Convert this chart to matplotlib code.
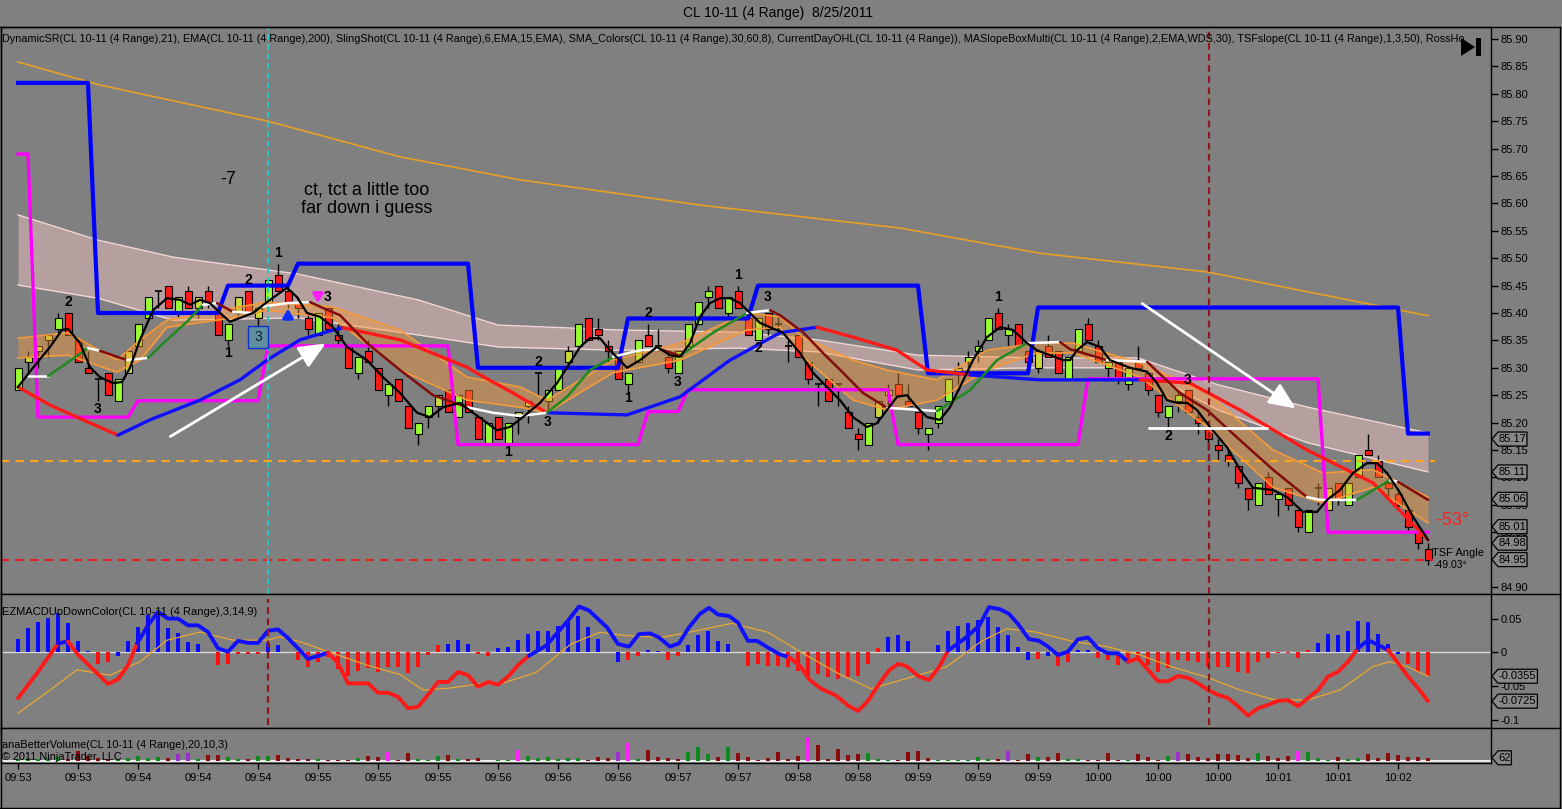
import numpy as np
import matplotlib.pyplot as plt
from matplotlib.lines import Line2D
from matplotlib.patches import Polygon, Rectangle
from matplotlib.ticker import FormatStrFormatter

plt.rcParams['font.family'] = ['Liberation Sans', 'DejaVu Sans']

W, H = 1562, 809
BG = '#808080'

# CL 10-11 (4 Range) 8/25/2011
opens = [85.26, 85.31, 85.33, 85.35, 85.37, 85.40, 85.35, 85.30, 85.28, 85.29,
         85.24, 85.29, 85.34, 85.39, 85.44, 85.45, 85.40, 85.44, 85.41, 85.44,
         85.40, 85.35, 85.40, 85.44, 85.39, 85.42, 85.47, 85.44, 85.42, 85.39,
         85.36, 85.41, 85.36, 85.34, 85.29, 85.33, 85.30, 85.25, 85.28, 85.23,
         85.18, 85.21, 85.23, 85.26, 85.21, 85.26, 85.21, 85.16, 85.21, 85.16,
         85.21, 85.23, 85.29, 85.24, 85.26, 85.31, 85.34, 85.39, 85.37, 85.34,
         85.32, 85.27, 85.31, 85.36, 85.34, 85.32, 85.29, 85.34, 85.38, 85.43,
         85.45, 85.40, 85.44, 85.39, 85.35, 85.40, 85.38, 85.34, 85.36, 85.31,
         85.27, 85.28, 85.27, 85.22, 85.18, 85.16, 85.21, 85.25, 85.27, 85.24,
         85.22, 85.18, 85.20, 85.24, 85.29, 85.31, 85.33, 85.35, 85.40, 85.36,
         85.38, 85.33, 85.30, 85.34, 85.33, 85.28, 85.33, 85.38, 85.34, 85.30,
         85.31, 85.27, 85.31, 85.29, 85.25, 85.21, 85.24, 85.26, 85.21, 85.19,
         85.16, 85.14, 85.12, 85.08, 85.05, 85.10, 85.06, 85.08, 85.04, 85.00,
         85.08, 85.04, 85.09, 85.05, 85.10, 85.15, 85.13, 85.09, 85.07, 85.04,
         85.00, 84.97]
highs = [85.30, 85.33, 85.34, 85.36, 85.40, 85.40, 85.35, 85.33, 85.28, 85.29,
         85.28, 85.33, 85.38, 85.43, 85.44, 85.45, 85.43, 85.45, 85.43, 85.45,
         85.40, 85.38, 85.43, 85.44, 85.41, 85.46, 85.49, 85.45, 85.43, 85.40,
         85.40, 85.41, 85.38, 85.34, 85.32, 85.35, 85.30, 85.27, 85.28, 85.23,
         85.20, 85.23, 85.25, 85.26, 85.25, 85.26, 85.21, 85.20, 85.21, 85.20,
         85.22, 85.24, 85.29, 85.26, 85.30, 85.34, 85.38, 85.39, 85.39, 85.35,
         85.32, 85.29, 85.35, 85.38, 85.37, 85.33, 85.33, 85.38, 85.42, 85.45,
         85.45, 85.43, 85.45, 85.40, 85.39, 85.40, 85.40, 85.35, 85.36, 85.31,
         85.27, 85.28, 85.27, 85.23, 85.19, 85.20, 85.24, 85.27, 85.29, 85.27,
         85.22, 85.19, 85.23, 85.28, 85.31, 85.33, 85.35, 85.39, 85.41, 85.38,
         85.38, 85.33, 85.33, 85.36, 85.33, 85.32, 85.37, 85.39, 85.35, 85.32,
         85.31, 85.30, 85.34, 85.29, 85.25, 85.23, 85.26, 85.26, 85.22, 85.19,
         85.17, 85.16, 85.12, 85.08, 85.09, 85.11, 85.07, 85.08, 85.04, 85.04,
         85.09, 85.08, 85.09, 85.09, 85.14, 85.18, 85.14, 85.10, 85.08, 85.04,
         85.01, 84.98]
lows = [85.26, 85.29, 85.30, 85.32, 85.36, 85.36, 85.31, 85.29, 85.24, 85.25,
        85.24, 85.29, 85.34, 85.39, 85.41, 85.41, 85.39, 85.41, 85.39, 85.41,
        85.36, 85.34, 85.39, 85.40, 85.37, 85.42, 85.44, 85.41, 85.39, 85.36,
        85.36, 85.37, 85.34, 85.30, 85.28, 85.31, 85.26, 85.23, 85.24, 85.19,
        85.16, 85.19, 85.21, 85.22, 85.21, 85.22, 85.17, 85.16, 85.17, 85.16,
        85.18, 85.20, 85.25, 85.22, 85.26, 85.30, 85.34, 85.35, 85.35, 85.31,
        85.28, 85.25, 85.31, 85.34, 85.33, 85.29, 85.29, 85.34, 85.38, 85.41,
        85.41, 85.39, 85.41, 85.36, 85.35, 85.36, 85.36, 85.31, 85.32, 85.27,
        85.23, 85.24, 85.23, 85.19, 85.15, 85.16, 85.20, 85.23, 85.25, 85.23,
        85.18, 85.15, 85.19, 85.24, 85.27, 85.29, 85.31, 85.35, 85.37, 85.34,
        85.34, 85.29, 85.29, 85.32, 85.29, 85.28, 85.33, 85.35, 85.31, 85.28,
        85.27, 85.26, 85.30, 85.25, 85.21, 85.19, 85.22, 85.22, 85.18, 85.15,
        85.13, 85.12, 85.08, 85.04, 85.05, 85.07, 85.03, 85.04, 85.00, 85.00,
        85.05, 85.04, 85.05, 85.05, 85.10, 85.14, 85.10, 85.06, 85.04, 85.00,
        84.97, 84.94]
closes = [85.30, 85.32, 85.34, 85.36, 85.39, 85.36, 85.31, 85.29, 85.28, 85.25,
          85.28, 85.33, 85.38, 85.43, 85.44, 85.41, 85.43, 85.41, 85.43, 85.42,
          85.36, 85.38, 85.43, 85.40, 85.41, 85.46, 85.44, 85.42, 85.41, 85.37,
          85.40, 85.37, 85.35, 85.30, 85.32, 85.31, 85.26, 85.27, 85.24, 85.19,
          85.20, 85.23, 85.25, 85.22, 85.25, 85.22, 85.17, 85.20, 85.17, 85.20,
          85.22, 85.24, 85.29, 85.26, 85.30, 85.33, 85.38, 85.35, 85.36, 85.33,
          85.28, 85.29, 85.35, 85.34, 85.34, 85.30, 85.33, 85.38, 85.42, 85.44,
          85.41, 85.43, 85.41, 85.36, 85.39, 85.37, 85.38, 85.34, 85.32, 85.28,
          85.27, 85.24, 85.27, 85.19, 85.17, 85.20, 85.24, 85.26, 85.25, 85.23,
          85.19, 85.19, 85.23, 85.28, 85.30, 85.32, 85.34, 85.39, 85.37, 85.37,
          85.34, 85.31, 85.33, 85.32, 85.29, 85.32, 85.37, 85.35, 85.31, 85.31,
          85.28, 85.30, 85.30, 85.26, 85.22, 85.23, 85.25, 85.22, 85.20, 85.17,
          85.15, 85.13, 85.09, 85.06, 85.09, 85.07, 85.07, 85.05, 85.01, 85.04,
          85.08, 85.08, 85.06, 85.09, 85.14, 85.14, 85.10, 85.08, 85.05, 85.01,
          84.98, 84.95]
# SMA_Colors paint: g green, y yellow-green, r red, d doji
bar_paint = ("gyyygrrrdr" "gyggdrgryr" "rgyrygrrrr" "grrrgrrgrr" "ggyrgrrgrg"
             "yydggygrrr" "rggrdrgggg" "rgrrgrddrr" "drdrrgyyrr" "rgggygggrg"
             "rryrrggrrg" "rgrrrggrrr" "rrrrgrgrrg" "dyrggrrrrr" "rr")

# EMA(200)
ema200 = [(0, 85.858), (8.2, 85.816), (25, 85.750), (38.2, 85.685), (50.2, 85.643),
          (68.2, 85.597), (88.2, 85.555), (102.2, 85.509), (118.9, 85.475),
          (132.2, 85.427), (141, 85.395)]

# pink envelope (bar, upper, lower)
pink_band = [(0, 85.579, 85.451), (8, 85.533, 85.427), (15.5, 85.502, 85.387),
             (28, 85.471, 85.391), (40, 85.424, 85.360), (48, 85.378, 85.338),
             (60, 85.369, 85.332), (72, 85.365, 85.336), (80, 85.351, 85.329),
             (90, 85.323, 85.296), (102, 85.318, 85.300), (112, 85.318, 85.300),
             (120, 85.269, 85.223), (129, 85.228, 85.163), (141, 85.181, 85.110)]

# SlingShot fill (bar, upper, lower)
sling_band = [(0, 85.354, 85.318), (5, 85.364, 85.323), (9.9, 85.314, 85.292),
              (12.2, 85.351, 85.314), (14.9, 85.387, 85.374), (21.5, 85.409, 85.391),
              (24.9, 85.420, 85.405), (31.5, 85.411, 85.391), (38.2, 85.369, 85.296),
              (44.9, 85.283, 85.241), (50.2, 85.265, 85.228), (52.9, 85.241, 85.218),
              (59.5, 85.314, 85.291), (66.2, 85.345, 85.314), (72.9, 85.400, 85.369),
              (76.2, 85.393, 85.374), (78.5, 85.356, 85.320), (83.5, 85.314, 85.241),
              (86.9, 85.296, 85.223), (91.9, 85.278, 85.241), (96.9, 85.332, 85.296),
              (101.9, 85.345, 85.327), (105.5, 85.345, 85.327), (112.2, 85.309, 85.283),
              (118.9, 85.254, 85.192), (125.5, 85.150, 85.082), (130.5, 85.108, 85.053),
              (135.5, 85.114, 85.082), (141, 85.064, 85.017)]

# DynamicSR steps
resist_steps = [(0, 85.82), (7, 85.82), (8, 85.40), (20, 85.40), (21, 85.45), (27, 85.45),
                (28, 85.49), (45, 85.49), (46, 85.30), (60, 85.30), (61, 85.39), (73, 85.39),
                (74, 85.45), (90, 85.45), (91, 85.29), (101, 85.29), (102, 85.41),
                (138, 85.41), (139, 85.18), (141, 85.18)]
support_steps = [(0, 85.69), (1, 85.69), (2, 85.21), (11, 85.21), (12, 85.24), (24, 85.24),
                 (25, 85.34), (43, 85.34), (44, 85.16), (62, 85.16), (63, 85.22), (66, 85.22),
                 (67, 85.26), (87, 85.26), (88, 85.16), (106, 85.16), (107, 85.28),
                 (130, 85.28), (131, 85.00), (141, 85.00)]

# slow MA, b above / r below
slow_ma = [(0, 85.265, 'r'), (3.2, 85.232, 'r'), (6.5, 85.205, 'r'), (10, 85.177, 'b'),
           (13.2, 85.205, 'b'), (18.2, 85.241, 'b'), (22.2, 85.278, 'b'), (24.9, 85.314, 'b'),
           (28.2, 85.351, 'b'), (31.5, 85.369, 'b'), (32.5, 85.373, 'r'), (38.2, 85.351, 'r'),
           (44.9, 85.301, 'r'), (46.2, 85.287, 'r'), (49.5, 85.254, 'r'), (52.9, 85.218, 'b'),
           (60.9, 85.214, 'b'), (66.2, 85.247, 'b'), (71.2, 85.314, 'b'), (76.2, 85.364, 'b'),
           (79.9, 85.374, 'r'), (83.5, 85.356, 'r'), (87.9, 85.332, 'r'), (90.9, 85.296, 'r'),
           (95.2, 85.287, 'b'), (102.2, 85.278, 'b'), (112.2, 85.278, 'r'), (117.2, 85.272, 'r'),
           (122.2, 85.223, 'r'), (128.9, 85.150, 'r'), (135.5, 85.090, 'r'), (141, 84.986, 'r')]

# medium MA (slope coloured)
mid_ma = [(1, 85.285), (3, 85.285), (4.9, 85.309), (7, 85.336), (8.2, 85.331), (10.9, 85.314),
          (13, 85.318), (14.9, 85.351), (16.9, 85.384), (18.5, 85.415), (19.9, 85.418),
          (21.5, 85.402), (23.5, 85.400), (24.2, 85.411), (26.9, 85.418), (29.2, 85.420),
          (30.5, 85.409), (32.2, 85.396), (34.9, 85.345), (38.2, 85.296), (41.5, 85.250),
          (44.9, 85.228), (47.5, 85.218), (50.2, 85.212), (52.9, 85.218), (54.9, 85.247),
          (57.2, 85.296), (59.5, 85.320), (62.2, 85.332), (64.2, 85.334), (66.2, 85.322),
          (69.5, 85.364), (72.9, 85.400), (75.2, 85.405), (76.2, 85.396), (78.5, 85.365),
          (80.5, 85.327), (82.5, 85.291), (84.5, 85.254), (86.9, 85.227), (91.9, 85.221),
          (95.2, 85.259), (97.9, 85.314), (100.9, 85.345), (104.2, 85.347), (105.2, 85.334),
          (108.9, 85.314), (112.9, 85.311), (116.2, 85.254), (118.9, 85.223), (122.2, 85.168),
          (125.5, 85.114), (128.9, 85.064), (130.2, 85.059), (133.9, 85.059), (137.2, 85.095),
          (138, 85.092), (141, 85.059)]

# fast smoothed price (black)
fast_ma = [(0, 85.265), (1.5, 85.300), (3.2, 85.338), (4.4, 85.369), (5, 85.371), (6.2, 85.345),
           (7.2, 85.301), (8.2, 85.283), (9.5, 85.272), (10.4, 85.274), (11.2, 85.300),
           (12.2, 85.351), (13.5, 85.405), (14.9, 85.427), (16.2, 85.424), (17.2, 85.415),
           (18.2, 85.424), (19.2, 85.418), (20.2, 85.400), (21.2, 85.384), (22.2, 85.391),
           (23.5, 85.400), (24.9, 85.420), (26.9, 85.446), (27.9, 85.429), (28.9, 85.400),
           (30.2, 85.393), (31.5, 85.374), (32.9, 85.338), (34.9, 85.314), (36.5, 85.283),
           (38.2, 85.254), (39.9, 85.218), (41.2, 85.210), (42.5, 85.228), (44.2, 85.236),
           (45.5, 85.218), (47.9, 85.186), (49.2, 85.192), (50.5, 85.210), (52.2, 85.236),
           (53.9, 85.272), (55.2, 85.309), (56.2, 85.338), (57.2, 85.354), (58.2, 85.354),
           (59.2, 85.332), (60.9, 85.300), (62.2, 85.314), (63.9, 85.338), (65.2, 85.323),
           (66.2, 85.320), (67.2, 85.345), (68.2, 85.393), (69.2, 85.418), (70.2, 85.427),
           (71.2, 85.427), (72.2, 85.418), (73.2, 85.400), (74.2, 85.382), (75.2, 85.374),
           (76.5, 85.364), (78.2, 85.327), (79.5, 85.291), (80.9, 85.265), (82.2, 85.241),
           (83.5, 85.210), (84.9, 85.192), (85.9, 85.199), (86.9, 85.223), (87.9, 85.247),
           (88.9, 85.250), (89.9, 85.228), (90.9, 85.210), (92.2, 85.205), (93.2, 85.228),
           (94.2, 85.265), (95.5, 85.314), (96.9, 85.356), (98.2, 85.374), (99.5, 85.369),
           (100.9, 85.345), (101.9, 85.332), (103.2, 85.323), (104.5, 85.314), (105.2, 85.314),
           (105.9, 85.332), (106.9, 85.347), (108.2, 85.338), (109.2, 85.314), (111.2, 85.300),
           (112.9, 85.293), (113.9, 85.272), (114.9, 85.241), (115.9, 85.236), (116.9, 85.236),
           (117.9, 85.223), (119.2, 85.192), (120.9, 85.155), (122.2, 85.114), (123.5, 85.081),
           (125.5, 85.077), (126.9, 85.064), (128.5, 85.037), (129.9, 85.037), (130.9, 85.059),
           (132.2, 85.077), (133.5, 85.108), (134.9, 85.126), (135.9, 85.126), (136.9, 85.108),
           (138.2, 85.072), (139.5, 85.028), (141, 84.986)]

swing_labels = [('2', 5, 85.42), ('3', 8, 85.225), ('1', 21, 85.327), ('2', 23, 85.46),
                ('1', 26, 85.51), ('3', 31, 85.429), ('1', 49, 85.146), ('2', 52, 85.311),
                ('3', 53, 85.201), ('1', 61, 85.245), ('2', 63, 85.40), ('3', 66, 85.274),
                ('1', 72, 85.469), ('3', 75, 85.429), ('2', 74, 85.336), ('1', 98, 85.429),
                ('2', 115, 85.176), ('3', 117, 85.278)]
price_markers = [85.17, 85.11, 85.06, 85.01, 84.98, 84.95]
day_open = 85.13
day_low = 84.95

# EZMACDUpDownColor
macd_hist = [0.0197, 0.0356, 0.0454, 0.0504, 0.0578, 0.043, 0.0168, 0.002, -0.017, -0.014,
             -0.005, 0.0168, 0.038, 0.0553, 0.0553, 0.0365, 0.029, 0.0157, 0.0123, 0.001,
             -0.019, -0.017, -0.003, -0.003, -0.002, 0.0133, 0.011, 0.001, -0.011, -0.022,
             -0.015, -0.0064, -0.025, -0.035, -0.028, -0.024, -0.029, -0.022, -0.022, -0.031,
             -0.022, -0.0045, 0.011, 0.0124, 0.0183, 0.0124, -0.002, -0.006, 0.006, 0.0083,
             0.018, 0.027, 0.031, 0.032, 0.0395, 0.047, 0.054, 0.038, 0.0197, 0.001,
             -0.015, -0.012, -0.005, 0.0035, 0.002, -0.011, -0.005, 0.011, 0.026, 0.031,
             0.017, 0.012, 0.001, -0.0198, -0.017, -0.0198, -0.020, -0.022, -0.028, -0.0346,
             -0.032, -0.037, -0.0396, -0.037, -0.0346, -0.018, 0.006, 0.022, 0.025, 0.017,
             0.001, 0.001, 0.011, 0.031, 0.0395, 0.044, 0.048, 0.052, 0.038, 0.026,
             0.008, -0.011, -0.010, -0.005, -0.021, -0.014, 0.003, 0.003, -0.008, -0.011,
             -0.019, -0.014, -0.011, -0.019, -0.029, -0.024, -0.011, -0.013, -0.015, -0.022,
             -0.022, -0.022, -0.029, -0.031, -0.015, -0.009, -0.001, -0.001, -0.008, 0.003,
             0.0142, 0.0267, 0.026, 0.032, 0.0464, 0.0455, 0.0267, 0.0118, -0.003, -0.017,
             -0.029, -0.035]
hist_paint = ("bbbbbbbbrr" "bbbbbbbbbb" "rrrrrbbbrr" "rrrrrrrrrr" "rrrbbbrrbb"
              "bbbbbbbbbb" "brrbbrrbbb" "bbbrrrrrrr" "rrrrrrrbbb" "brbbbbbbbb"
              "bbrbrrbbrr" "rrrrrrrrrr" "rrrrrrrrrr" "bbbbbbbbbr" "rr")
macd_line = [(0, -0.068, 'r'), (1.9, -0.031, 'r'), (4, 0.0133, 'b'), (5, 0.016, 'r'),
             (6, -0.0035, 'r'), (7.9, -0.031, 'r'), (9, -0.047, 'r'), (10, -0.040, 'r'),
             (11, -0.019, 'r'), (11.9, 0.0133, 'b'), (13, 0.040, 'b'), (14, 0.060, 'b'),
             (15, 0.050, 'b'), (16, 0.050, 'b'), (17, 0.040, 'b'), (18, 0.040, 'b'),
             (19, 0.030, 'b'), (20, 0.0059, 'b'), (21, 0.001, 'b'), (22, 0.017, 'b'),
             (23, 0.014, 'b'), (24, 0.014, 'b'), (25, 0.032, 'b'), (26, 0.034, 'b'),
             (27, 0.021, 'b'), (28, 0.0059, 'b'), (29, -0.0098, 'b'), (30, -0.0054, 'b'),
             (31, -0.0005, 'r'), (32, -0.016, 'r'), (33, -0.046, 'r'), (34, -0.046, 'r'),
             (35, -0.046, 'r'), (36, -0.060, 'r'), (37, -0.060, 'r'), (38, -0.066, 'r'),
             (39, -0.083, 'r'), (40, -0.081, 'r'), (41, -0.063, 'r'), (42, -0.044, 'r'),
             (43, -0.044, 'r'), (44, -0.029, 'r'), (45, -0.034, 'r'), (46, -0.051, 'r'),
             (47, -0.044, 'r'), (48, -0.048, 'r'), (49, -0.036, 'r'), (50, -0.019, 'r'),
             (51.1, -0.005, 'b'), (52.8, 0.0098, 'b'), (55, 0.047, 'b'), (56.1, 0.068, 'b'),
             (57.1, 0.062, 'b'), (58.9, 0.037, 'b'), (60, 0.0123, 'b'), (61.1, 0.0084, 'b'),
             (62.1, 0.027, 'b'), (63.2, 0.028, 'b'), (64.1, 0.022, 'b'), (65.2, 0.0084, 'b'),
             (66.1, 0.0133, 'b'), (67.1, 0.037, 'b'), (68.2, 0.057, 'b'), (69.1, 0.066, 'b'),
             (70, 0.056, 'b'), (71.1, 0.054, 'b'), (72, 0.044, 'b'), (73, 0.017, 'b'),
             (73.9, 0.017, 'b'), (75, 0.007, 'b'), (76.1, -0.0025, 'b'), (77.1, -0.0074, 'r'),
             (78.2, -0.020, 'r'), (79.1, -0.040, 'r'), (80.3, -0.054, 'r'), (81.8, -0.064, 'r'),
             (83, -0.079, 'r'), (84, -0.087, 'r'), (85, -0.072, 'r'), (86.1, -0.047, 'r'),
             (87.1, -0.027, 'r'), (88, -0.017, 'r'), (88.9, -0.021, 'r'), (90, -0.035, 'r'),
             (91.1, -0.041, 'r'), (92.1, -0.022, 'r'), (93, 0.0025, 'b'), (94.6, 0.0197, 'b'),
             (96.1, 0.039, 'b'), (97.1, 0.067, 'b'), (98.2, 0.064, 'b'), (99.1, 0.057, 'b'),
             (100, 0.042, 'b'), (101.1, 0.0197, 'b'), (102.1, 0.017, 'b'), (103, 0.0084, 'b'),
             (104, -0.004, 'b'), (105, 0.001, 'b'), (106, 0.0193, 'b'), (107, 0.022, 'b'),
             (108, 0.0059, 'b'), (109, -0.0015, 'b'), (110, -0.0015, 'b'), (111, -0.014, 'r'),
             (112, -0.009, 'r'), (114, -0.043, 'r'), (115, -0.043, 'r'), (116, -0.035, 'r'),
             (117, -0.038, 'r'), (118, -0.046, 'r'), (119, -0.056, 'r'), (120, -0.063, 'r'),
             (121, -0.068, 'r'), (122, -0.080, 'r'), (123, -0.094, 'r'), (124, -0.083, 'r'),
             (125, -0.078, 'r'), (126, -0.072, 'r'), (127, -0.071, 'r'), (128, -0.080, 'r'),
             (129, -0.068, 'r'), (130, -0.056, 'r'), (131, -0.036, 'r'), (132, -0.029, 'r'),
             (133, -0.014, 'r'), (134, 0.006, 'b'), (135, 0.018, 'b'), (136, 0.011, 'b'),
             (137, 0.0035, 'r'), (138, -0.016, 'r'), (139, -0.036, 'r'), (140, -0.053, 'r'),
             (141, -0.0725, 'r')]
macd_signal = [(0, -0.0905), (3.2, -0.056), (5.9, -0.026), (9.2, -0.034), (12.2, -0.014),
               (14.9, 0.018), (18.2, 0.030), (21.5, 0.018), (24.9, 0.018), (26.2, 0.023),
               (28.2, 0.0157), (31.5, -0.0015), (34.9, -0.019), (38.2, -0.033), (40.5, -0.056),
               (43.2, -0.053), (46.5, -0.046), (48.2, -0.047), (51.8, -0.030), (55.3, 0.0123),
               (58.2, 0.0297), (60.7, 0.025), (64.3, 0.022), (67.1, 0.0297), (71.4, 0.043),
               (75, 0.0297), (78.6, -0.0025), (82.1, -0.032), (85.3, -0.054), (89.3, -0.037),
               (92.8, -0.022), (96.4, 0.017), (98.9, 0.035), (101.8, 0.030), (105.5, 0.016),
               (108.9, 0.0084), (112.2, -0.004), (115.5, -0.022), (118.9, -0.037),
               (122.2, -0.056), (125.5, -0.070), (128.9, -0.071), (132.2, -0.056),
               (135.5, -0.021), (137.2, -0.014), (138.9, -0.021), (141, -0.0355)]

# anaBetterVolume
volume = [46, 69, 46, 69, 92, 46, 230, 115, 69, 46,
          46, 69, 115, 69, 92, 69, 161, 184, 46, 138,
          138, 92, 46, 46, 115, 115, 138, 69, 46, 46,
          46, 23, 23, 23, 69, 115, 92, 207, 23, 184,
          46, 23, 115, 138, 46, 46, 69, 23, 23, 23,
          246, 115, 53, 76, 30, 69, 69, 23, 76, 53,
          191, 414, 39, 246, 76, 53, 39, 191, 322, 145,
          76, 322, 168, 76, 16, 53, 191, 39, 115, 552,
          361, 39, 269, 131, 145, 168, 30, 16, 16, 207,
          223, 69, 16, 16, 16, 16, 76, 30, 30, 230,
          23, 154, 76, 92, 177, 39, 39, 23, 23, 177,
          23, 23, 154, 76, 23, 99, 207, 154, 76, 53,
          154, 154, 138, 53, 177, 115, 53, 99, 230, 207,
          62, 23, 92, 39, 62, 154, 53, 177, 138, 76,
          92, 62]
vol_paint = ("gggggrrrrr" "gggggrppgr" "rggrggrrrr" "grrrgrrmrr" "gggrgrrwgg"
             "mggggggrrr" "pmgrrrrggg" "rgrrrrrrrm" "rrrrrgggrr" "rrggggggrp"
             "rrgrrggrrr" "rgrrrgprrr" "rrrrgrrrmg" "ggrggrrrrr" "rr")

time_ticks = list(range(0, 139, 6))
time_labels = ['09:53', '09:53', '09:54', '09:54', '09:54', '09:55', '09:55', '09:55',
               '09:56', '09:56', '09:56', '09:57', '09:57', '09:58', '09:58', '09:59',
               '09:59', '09:59', '10:00', '10:00', '10:00', '10:01', '10:01', '10:02']

# the visible part of the indicator caption (cut at the price axis in the screenshot)
indicator_text = ("DynamicSR(CL 10-11 (4 Range),21), EMA(CL 10-11 (4 Range),200), "
                  "SlingShot(CL 10-11 (4 Range),6,EMA,15,EMA), SMA_Colors(CL 10-11 (4 Range),30,60,8), "
                  "CurrentDayOHL(CL 10-11 (4 Range)), MASlopeBoxMulti(CL 10-11 (4 Range),2,EMA,WDS,30), "
                  "TSFslope(CL 10-11 (4 Range),1,3,50), RossHo")


def px_box(x0, y0, x1, y1):
    return [x0 / W, 1 - y1 / H, (x1 - x0) / W, (y1 - y0) / H]


def draw_runs(a, pts, colors, lw, z):
    xs = [p[0] for p in pts]
    ys = [p[1] for p in pts]
    cs = [p[2] for p in pts]
    n = len(xs)
    s = 0
    while s < n - 1:
        e = s
        while e < n - 1 and cs[e] == cs[s]:
            e += 1
        a.plot(xs[s:e + 1], ys[s:e + 1], color=colors[cs[s]], lw=lw, zorder=z,
               solid_joinstyle='round', solid_capstyle='round')
        s = e


def flag(a, val, label):
    pos = a.get_position()
    ax_h = pos.height * H
    ax_w = pos.width * W
    y0, y1 = a.get_ylim()
    dy = (y1 - y0) / ax_h * 7
    dx = 1.0 / ax_w
    w = 10 + 5.2 * len(label)
    tr = a.get_yaxis_transform()
    pts = [(1 + 1 * dx, val), (1 + 7 * dx, val + dy), (1 + w * dx, val + dy),
           (1 + w * dx, val - dy), (1 + 7 * dx, val - dy)]
    a.add_patch(Polygon(pts, closed=True, transform=tr, facecolor='#888888',
                        edgecolor='black', lw=0.9, clip_on=False, zorder=20))
    a.text(1 + (6 + w) / 2 * dx, val, label, transform=tr, ha='center', va='center',
           fontsize=8, color='black', clip_on=False, zorder=21)


fig = plt.figure(figsize=(W / 100, H / 100), dpi=100, facecolor=BG)
ax = fig.add_axes(px_box(1, 27, 1491, 594))
axm = fig.add_axes(px_box(1, 594, 1491, 728))
axv = fig.add_axes(px_box(1, 728, 1491, 763))

XL = (-1.7, 147.3)
MAIN_YL = (84.8872, 85.9219)
MACD_YL = (-0.1123, 0.0865)
VOL_YL = (-57.5, 747.5)

for a in (ax, axm, axv):
    a.set_facecolor(BG)
    for sp in a.spines.values():
        sp.set_color('black')
        sp.set_linewidth(1)
    a.set_xlim(*XL)

ax.set_ylim(*MAIN_YL)
axm.set_ylim(*MACD_YL)
axv.set_ylim(*VOL_YL)

# ---------------- main price panel ----------------
pb = np.array(pink_band)
ax.fill_between(pb[:, 0], pb[:, 1], pb[:, 2], color='#f6c6c6', alpha=0.45, lw=0, zorder=2)
ax.plot(pb[:, 0], pb[:, 1], color='#f3d6d6', lw=1, zorder=2.1)
ax.plot(pb[:, 0], pb[:, 2], color='#f3d6d6', lw=1, zorder=2.1)

idx = np.arange(len(closes))
o = np.array(opens)
c = np.array(closes)
hi = np.array(highs)
lo = np.array(lows)
paint = np.array(list(bar_paint))
body_col = {'g': '#99ff33', 'y': '#c9d83c', 'r': '#ff1a1a'}

ax.vlines(idx, lo, hi, color='black', lw=1, zorder=2.5)
solid = paint != 'd'
ax.bar(idx[solid], np.abs(c - o)[solid], 0.7, bottom=np.minimum(o, c)[solid],
       color=[body_col[p] for p in paint[solid]], edgecolor='black', linewidth=0.8, zorder=2.6)
ax.hlines(c[~solid], idx[~solid] - 0.35, idx[~solid] + 0.35, color='black', lw=1.2, zorder=2.6)

sb = np.array(sling_band)
ax.fill_between(sb[:, 0], sb[:, 1], sb[:, 2], color='#fc9834', alpha=0.42, lw=0, zorder=3.1)
ax.plot(sb[:, 0], sb[:, 1], color='#f59a3a', lw=1.2, zorder=3.3)
ax.plot(sb[:, 0], sb[:, 2], color='#f59a3a', lw=1.2, zorder=3.3)

e2 = np.array(ema200)
ax.plot(e2[:, 0], e2[:, 1], color='#e8a024', lw=1.2, zorder=3.5)

ax.hlines(day_open, XL[0], 141.7, colors='#ffa31a', linestyles=(0, (4, 3)), lw=1.5, zorder=3.6)
ax.hlines(day_low, XL[0], 141.5, colors='#e8201c', linestyles=(0, (4, 3)), lw=1.5, zorder=3.6)

rs = np.array(resist_steps)
ax.plot(rs[:, 0], rs[:, 1], color='#0000ff', lw=3.0, zorder=4)
ss = np.array(support_steps)
ax.plot(ss[:, 0], ss[:, 1], color='#ff00ff', lw=2.4, zorder=4)

draw_runs(ax, slow_ma, {'r': '#ff1a1a', 'b': '#1010ff'}, 2.4, 4.2)

mx = [p[0] for p in mid_ma]
my = [p[1] for p in mid_ma]
mid_pts = []
for i in range(len(mx)):
    if i < len(mx) - 1:
        slope = (my[i + 1] - my[i]) / (mx[i + 1] - mx[i])
        k = 'g' if slope > 0.005 else ('m' if slope < -0.005 else 'w')
    else:
        k = 'w'
    mid_pts.append((mx[i], my[i], k))
draw_runs(ax, mid_pts, {'g': '#1f8a1f', 'm': '#800c0c', 'w': '#ffffff'}, 1.8, 4.4)

fm = np.array(fast_ma)
ax.plot(fm[:, 0], fm[:, 1], color='black', lw=1.6, zorder=5)

ax.axvline(25, color='#22c8c8', ls=(0, (3, 2)), lw=1.4, zorder=4.6)
ax.axvline(119.1, color='#901818', ls=(0, (3, 2)), lw=1.6, zorder=4.6)

# MASlopeBox "3" and slope arrows
ax.add_patch(Rectangle((23.0, 85.336), 2.0, 0.040, facecolor='#5e8ea0',
                       edgecolor='#1030d0', lw=1, zorder=5.5))
ax.text(24.0, 85.356, '3', ha='center', va='center', fontsize=10, color='#10202a', zorder=5.6)
ax.annotate('', xy=(27, 85.413), xytext=(27, 85.384), zorder=5.6,
            arrowprops=dict(arrowstyle='-|>,head_length=0.5,head_width=0.3', color='#1030ff',
                            lw=2.5, mutation_scale=10))
ax.annotate('', xy=(30, 85.413), xytext=(30, 85.440), zorder=5.6,
            arrowprops=dict(arrowstyle='-|>,head_length=0.5,head_width=0.3', color='#ff20ff',
                            lw=2.5, mutation_scale=10))

for t, bx, by in swing_labels:
    ax.text(bx, by, t, ha='center', va='center', fontsize=10, fontweight='bold',
            color='black', zorder=6)

# drawn annotations
ax.annotate('', xy=(31, 85.347), xytext=(15, 85.172), zorder=6,
            arrowprops=dict(arrowstyle='-|>,head_length=0.9,head_width=0.4', color='white',
                            lw=2, mutation_scale=18))
ax.annotate('', xy=(128, 85.223), xytext=(112.2, 85.420), zorder=6,
            arrowprops=dict(arrowstyle='-|>,head_length=0.9,head_width=0.4', color='white',
                            lw=2, mutation_scale=18))
ax.hlines(85.190, 113, 125, colors='white', lw=2, zorder=6)
ax.text(21, 85.643, '-7', ha='center', va='center', fontsize=13, color='black', zorder=6)
ax.text(34.9, 85.608, 'ct, tct a little too\nfar down i guess', ha='center', va='center',
        fontsize=13, color='black', linespacing=1.15, zorder=6)
ax.text(141.8, 85.022, '-53°', ha='left', va='center', fontsize=13, color='#ff2020', zorder=6)
ax.text(141.4, 84.962, 'TSF Angle', ha='left', va='center', fontsize=8, color='black', zorder=6)
ax.text(141.6, 84.940, '-49.03°', ha='left', va='center', fontsize=7.5, color='black', zorder=6)

ax.text(0.001, 0.979, indicator_text, transform=ax.transAxes, ha='left', va='center',
        fontsize=7.8, color='black', zorder=7)

# go-to-end button
ax.add_patch(Polygon([(0.9799, 0.9806), (0.9799, 0.9489), (0.9893, 0.9647)], closed=True,
                     transform=ax.transAxes, facecolor='black', edgecolor='none', zorder=8))
ax.add_patch(Rectangle((0.9900, 0.9489), 0.0034, 0.0317, transform=ax.transAxes,
                       facecolor='black', edgecolor='none', zorder=8))

ax.yaxis.tick_right()
ax.set_yticks(np.round(np.arange(84.90, 85.9001, 0.05), 2))
ax.yaxis.set_major_formatter(FormatStrFormatter('%.2f'))
ax.tick_params(axis='y', direction='out', length=5, width=1, labelsize=8, pad=2, colors='black')
ax.tick_params(axis='x', bottom=False, labelbottom=False)
ax.set_xlim(*XL)
ax.set_ylim(*MAIN_YL)
for v in price_markers:
    flag(ax, v, '%.2f' % v)

# ---------------- MACD panel ----------------
hc = {'b': '#0a0aff', 'r': '#ff1010'}
axm.axhline(0, color='#d8d8d8', lw=1, zorder=1)
axm.bar(idx, macd_hist, 0.32, color=[hc[p] for p in hist_paint], zorder=2)
sg = np.array(macd_signal)
axm.plot(sg[:, 0], sg[:, 1], color='#e8a830', lw=0.9, zorder=3)
draw_runs(axm, macd_line, {'r': '#ff1a1a', 'b': '#1010ff'}, 2.8, 4)
axm.axvline(25, color='#901818', ls=(0, (3, 2)), lw=1.6, ymin=0.02, ymax=0.96, zorder=5)
axm.axvline(119.1, color='#901818', ls=(0, (3, 2)), lw=1.6, ymin=0.02, ymax=0.96, zorder=5)
axm.text(0.001, 0.866, 'EZMACDUpDownColor(CL 10-11 (4 Range),3,14,9)', transform=axm.transAxes,
         ha='left', va='center', fontsize=8, color='black', zorder=6)
axm.yaxis.tick_right()
axm.set_yticks([0.05, 0, -0.05, -0.1])
axm.set_yticklabels(['0.05', '0', '-0.05', '-0.1'])
axm.tick_params(axis='y', direction='out', length=5, width=1, labelsize=8, pad=2, colors='black')
axm.tick_params(axis='x', bottom=False, labelbottom=False)
axm.set_xlim(*XL)
axm.set_ylim(*MACD_YL)
flag(axm, macd_signal[-1][1], '-0.0355')
flag(axm, macd_line[-1][1], '-0.0725')

# ---------------- volume panel ----------------
vc = {'g': '#0a8a1a', 'r': '#8b0a0a', 'm': '#ff22ff', 'p': '#9a30d0', 'w': '#ffffff'}
axv.axhline(0, color='#e8e8e8', lw=1.5, zorder=1)
axv.bar(idx, volume, 0.32, color=[vc[p] for p in vol_paint], zorder=2)
axv.text(0.001, 0.50, 'anaBetterVolume(CL 10-11 (4 Range),20,10,3)', transform=axv.transAxes,
         ha='left', va='center', fontsize=7.8, color='black', zorder=6)
axv.text(0.001, 0.16, '© 2011 NinjaTrader, LLC', transform=axv.transAxes,
         ha='left', va='center', fontsize=7.8, color='black', zorder=6)
axv.tick_params(axis='y', left=False, right=False, labelleft=False)
axv.set_xticks(time_ticks)
axv.set_xticklabels(time_labels)
axv.tick_params(axis='x', direction='out', length=4, width=1, labelsize=8, pad=3, colors='black')
axv.set_xlim(*XL)
axv.set_ylim(*VOL_YL)
flag(axv, volume[-1], str(volume[-1]))

# window frame
def frame_line(x0, y0, x1, y1):
    fig.add_artist(Line2D([x0 / W, x1 / W], [1 - y0 / H, 1 - y1 / H], color='black', lw=1))

frame_line(0, 27, 1560, 27)
frame_line(1491, 594, 1560, 594)
frame_line(1491, 728, 1560, 728)
frame_line(1560, 27, 1560, 808)
frame_line(0, 808, 1560, 808)
frame_line(0.5, 27, 0.5, 808)

fig.text(778 / W, 1 - 13 / H, 'CL 10-11 (4 Range)  8/25/2011', ha='center', va='center',
         fontsize=10, color='black')

fig.savefig('out.png', dpi=100, facecolor=BG)
